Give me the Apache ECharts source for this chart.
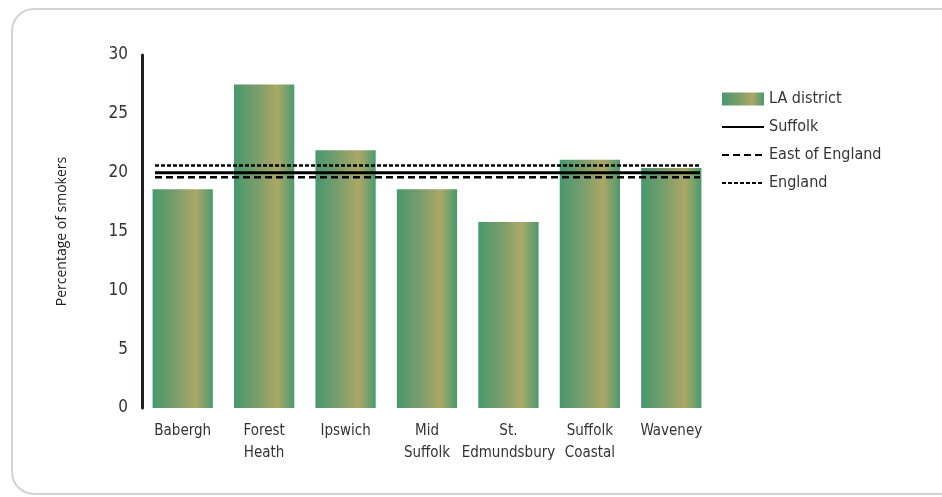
<!DOCTYPE html>
<html>
<head>
<meta charset="utf-8">
<script src="https://cdn.jsdelivr.net/npm/echarts@6/dist/echarts.min.js"></script>
<style>
  html, body { margin: 0; padding: 0; background: #fff; }
  #chart { width: 942px; height: 497px; }
</style>
</head>
<body>
<div id="chart"></div>
<script>
const districts = ['Babergh', 'Forest\nHeath', 'Ipswich', 'Mid\nSuffolk', 'St.\nEdmundsbury', 'Suffolk\nCoastal', 'Waveney'];
const smokers = [18.6, 27.5, 21.9, 18.6, 15.8, 21.1, 20.4];
const suffolk = 20.0;
const eastOfEngland = 19.6;
const england = 20.6;
const yTicks = [0, 5, 10, 15, 20, 25, 30];

const condensed = "'Liberation Sans Narrow', 'DejaVu Sans Condensed', sans-serif";

const barFill = new echarts.graphic.LinearGradient(0, 0, 1, 0, [
  { offset: 0, color: '#47986e' },
  { offset: 0.4, color: '#7c9e6b' },
  { offset: 0.72, color: '#aca866' },
  { offset: 1, color: '#4a9a6e' },
]);

const refLine = (name, value, type, width) => ({
  name: name,
  type: 'line',
  xAxisIndex: 1,
  yAxisIndex: 1,
  data: [value, value],
  symbol: 'none',
  silent: true,
  itemStyle: { color: '#000' },
  lineStyle: { color: '#000', width: width, type: type },
  z: 5,
});

const lineLegend = (name) => ({ name: name, itemStyle: { opacity: 0 } });

const chart = echarts.init(document.getElementById('chart'));
chart.setOption({
  animation: false,
  graphic: [
    {
      type: 'rect',
      shape: { x: 12, y: 9, width: 960, height: 485, r: 22 },
      style: { fill: 'none', stroke: '#d3d3d3', lineWidth: 2 },
      silent: true,
    },
  ],
  legend: {
    orient: 'vertical',
    left: 716,
    top: 86,
    itemWidth: 42,
    itemHeight: 13,
    itemGap: 12,
    textStyle: { fontFamily: condensed, fontSize: 16, color: '#333' },
    data: [
      { name: 'LA district', icon: 'rect' },
      lineLegend('Suffolk'),
      lineLegend('East of England'),
      lineLegend('England'),
    ],
  },
  grid: [
    { left: 142, right: 230, top: 55, bottom: 89 },
    { left: 155, right: 242, top: 55, bottom: 89 },
  ],
  xAxis: [
    {
      type: 'category',
      gridIndex: 0,
      data: districts,
      axisLine: { show: false },
      axisTick: { show: false },
      axisLabel: {
        fontFamily: condensed,
        fontSize: 15,
        color: '#333',
        margin: 12,
        lineHeight: 22,
        interval: 0,
      },
    },
    {
      type: 'category',
      gridIndex: 1,
      data: ['', ''],
      boundaryGap: false,
      show: false,
    },
  ],
  yAxis: [
    {
      type: 'value',
      gridIndex: 0,
      min: 0,
      max: 30,
      interval: 5,
      name: 'Percentage of smokers',
      nameLocation: 'middle',
      nameGap: 73,
      nameRotate: 90,
      nameTextStyle: { fontFamily: "'Open Sans', sans-serif", fontSize: 14, color: '#222' },
      axisLine: { show: true, lineStyle: { color: '#231f20', width: 3 } },
      axisTick: { show: false },
      splitLine: { show: false },
      axisLabel: {
        fontFamily: condensed,
        fontSize: 17,
        color: '#333',
        margin: 14,
        formatter: (v) => (yTicks.includes(v) ? String(v) : ''),
      },
    },
    {
      type: 'value',
      gridIndex: 1,
      min: 0,
      max: 30,
      show: false,
    },
  ],
  series: [
    {
      name: 'LA district',
      type: 'bar',
      data: smokers,
      barCategoryGap: '26%',
      itemStyle: { color: barFill },
      z: 2,
    },
    refLine('Suffolk', suffolk, 'solid', 3),
    refLine('East of England', eastOfEngland, [7, 4], 2.5),
    refLine('England', england, [4, 2], 2.5),
  ],
});
</script>
</body>
</html>
